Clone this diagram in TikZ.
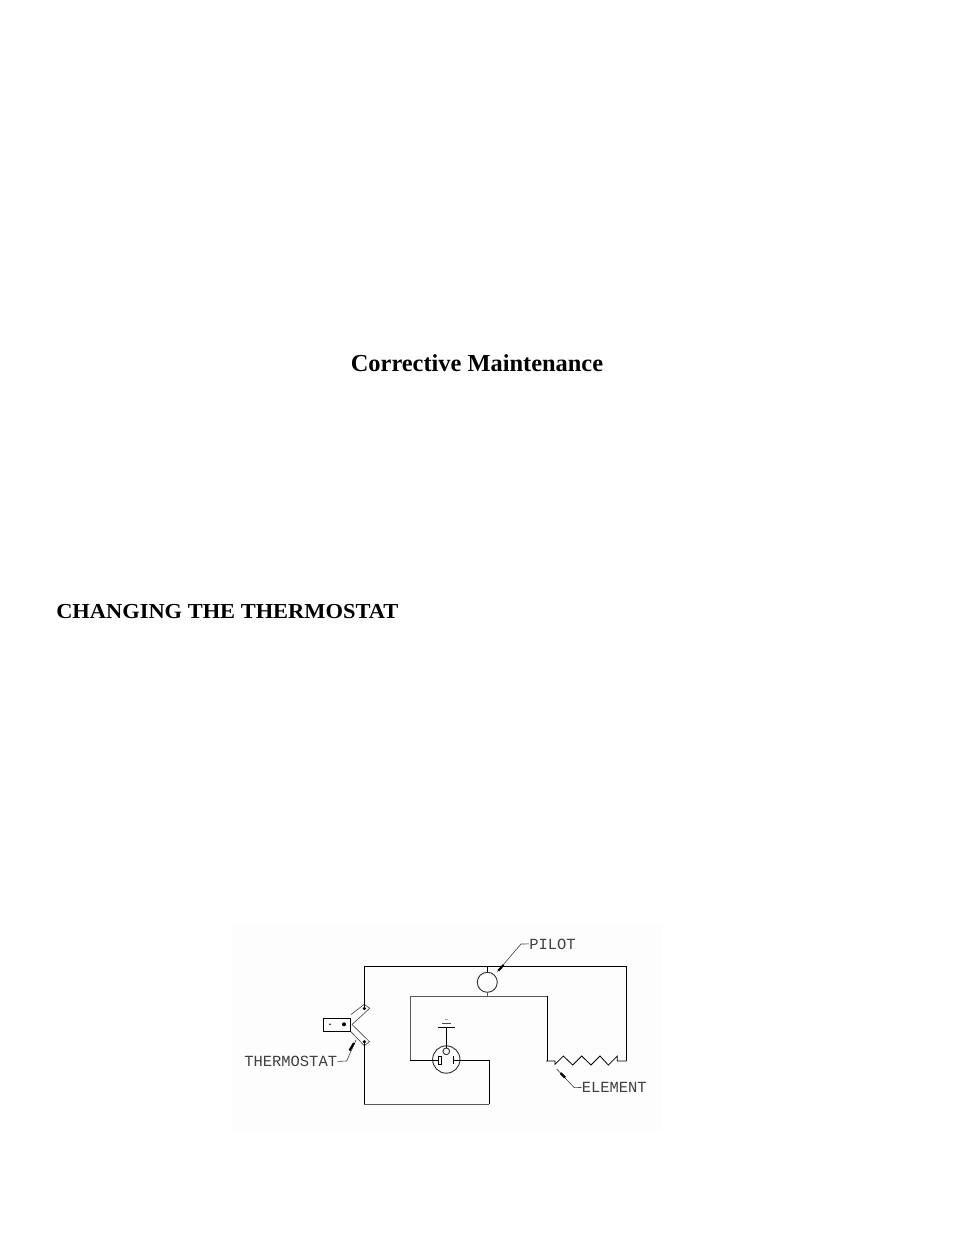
\documentclass[tikz,border=0pt]{standalone}
\usepackage{graphicx}
\usepackage{fontspec}
\setmainfont{Liberation Serif}
\setmonofont{Liberation Mono}
\tikzset{
  x=0.75pt,y=-0.75pt,
  wire/.style={draw=black,line width=0.75pt,line join=miter},
  greywire/.style={draw=black!65,line width=0.75pt},
  thin part/.style={draw=black!70,line width=0.5pt},
  leader/.style={draw=black!75,line width=0.45pt},
  headmark/.style={draw=black,line width=1.6pt},
  cadlabel/.style={font=\ttfamily\fontsize{11.6pt}{12pt}\selectfont,text=black!75,inner sep=0pt,anchor=base west},
  titletext/.style={font=\bfseries\fontsize{18.3pt}{20pt}\selectfont,inner sep=0pt,anchor=base},
  headtext/.style={font=\bfseries\fontsize{16pt}{18pt}\selectfont,inner sep=0pt,anchor=base west},
  dotmark/.style={circle,fill=black,inner sep=0pt,minimum size=#1},
  round part/.style={circle,draw=black!80,line width=0.7pt,inner sep=0pt,minimum size=#1},
}
\begin{document}
\begin{tikzpicture}
\useasboundingbox (0,0) rectangle (954,1235);
\fill[black!0.7] (232,925) rectangle (662,1130);

\node[titletext] (title) at (477,371) {Corrective Maintenance};
\node[headtext] (head) at (56,618) {\scalebox{1.052}[1]{CHANGING THE THERMOSTAT}};

% components
\node[round part=15pt] (pilot) at (487.3,982.3) {};
\node[round part=20.5pt] (recept) at (446.3,1059.5) {};
\node[round part=5pt] (pin) at (446.3,1051.3) {};
\node[draw=black,line width=0.75pt,minimum width=20.5pt,minimum height=10pt,inner sep=0pt] (tbox) at (337,1025) {};
\node[dotmark=1.3pt] (dotA) at (330,1024.3) {};
\node[dotmark=3pt] (dotB) at (344,1024.3) {};
\node[dotmark=2.6pt] (termU) at (364.3,1008.5) {};
\node[dotmark=2.6pt] (termL) at (364.3,1041.7) {};
\node[draw=black,line width=0.6pt,minimum width=2.4pt,minimum height=6pt,inner sep=0pt] (slotL) at (440,1060) {};
\coordinate (slotRt) at (453.7,1056);
\coordinate (slotRb) at (453.7,1064);

% thermostat arms
\draw[thin part] (351,1014.5) -- (364.3,1004.3) -- (369.7,1008.3) -- (352,1024.5);
\draw[thin part] (352,1024.5) -- (369.5,1041.7) -- (364.3,1045.7) -- (350.7,1031.5);

% outer wire
\coordinate (tl) at (364.3,966.3);
\coordinate (tr) at (626.7,966.3);
\coordinate (er) at (626.7,1061);
\coordinate (bl) at (364.3,1104.3);
\coordinate (br) at (489.3,1104.3);
\coordinate (rr) at (489.3,1060.7);
\coordinate (pt) at (487.3,966.3);
\coordinate (pb) at (487.3,996.3);
\draw[wire] (termU.center) -- (tl) -- (tr) -- (er);
\draw[wire] (pt) -- (pilot.north);
\draw[greywire] (pilot.south) -- (pb);
\draw[wire] (termL.center) -- (bl);
\draw[greywire] (bl) -- (br);
\draw[wire] (br) -- (rr) -- (slotRt |- rr);
\draw[wire] (slotRt) -- (slotRb);

% inner wire
\coordinate (il) at (410.3,996.3);
\coordinate (ir) at (547.3,996.3);
\coordinate (ib) at (410.3,1060);
\coordinate (ie) at (547.3,1061);
\draw[greywire] (ib) -- (il) -- (ir);
\draw[wire] (ir) -- (ie);
\draw[wire] (ib) -- (slotL.west);

% element
\draw[wire,line width=0.6pt] (546,1061) -- (555,1061) -- (555,1064.3) -- (563.3,1056) -- (572.7,1065) -- (581.7,1056) -- (591,1065) -- (600,1056) -- (608.3,1065) -- (617.3,1056) -- (617.3,1061) -- (er);

% ground
\coordinate (gt) at (446.3,1027);
\draw[wire] (gt) -- (pin.north);
\draw[wire] (437.7,1027) -- (455,1027);
\draw[thin part] (442,1023.3) -- (450.5,1023.3);
\draw[thin part,draw=black!35] (444.5,1019.5) -- (448,1019.5);

% labels
\node[cadlabel] (lthermo) at (244,1066.5) {THERMOSTAT};
\node[cadlabel] (lpilot) at (529,949) {PILOT};
\node[cadlabel] (lelement) at (581.5,1092.5) {ELEMENT};

% leaders
\draw[leader] (lpilot.west) -- (521,944) -- (497,972);
\draw[headmark] (503.5,965) -- (498.5,970.5);
\draw[leader] (lelement.west) -- (574.3,1087.7) -- (556.7,1069);
\draw[headmark] (560.5,1073) -- (565,1077.5);
\draw[leader] (lthermo.east) -- (346.7,1061) -- (356,1040);
\draw[headmark] (349.5,1050.5) -- (354,1043);
\end{tikzpicture}
\end{document}
